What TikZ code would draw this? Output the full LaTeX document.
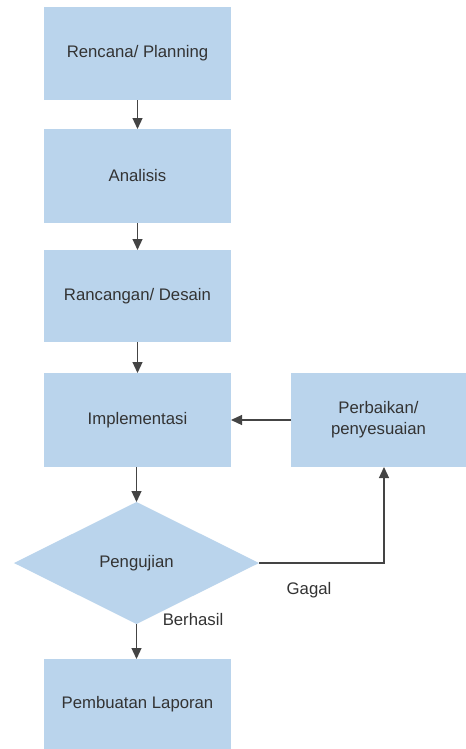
\documentclass[tikz,border=0pt]{standalone}
\usepackage{fontspec}
\setmainfont{Liberation Sans}
\usetikzlibrary{shapes.geometric,arrows.meta}
\definecolor{boxfill}{HTML}{BAD4EC}
\definecolor{txt}{HTML}{333333}
\definecolor{ln}{HTML}{444444}
\begin{document}
\begin{tikzpicture}[x=1bp,y=-1bp,
  every node/.style={font=\fontsize{16.8}{21}\selectfont, text=txt},
  stepbox/.style={fill=boxfill, draw=none, minimum width=187bp, inner sep=0pt, outer sep=0pt, align=center},
  decision/.style={diamond, fill=boxfill, draw=none, minimum width=245bp, minimum height=122bp, inner sep=0pt, outer sep=0pt},
  conn/.style={draw=ln, line width=1.2bp, -{Triangle[length=11bp,width=10bp]}},
  lbl/.style={inner sep=0pt}]
\useasboundingbox (0,0) rectangle (466,749);
\fill[white] (0,0) rectangle (466,749);
\node[stepbox, minimum height=93bp] (r1) at (137.5,53.5) {Rencana/ Planning};
\node[stepbox, minimum height=94bp] (r2) at (137.5,176) {Analisis};
\node[stepbox, minimum height=92bp] (r3) at (137.5,296) {Rancangan/ Desain};
\node[stepbox, minimum height=94bp] (r4) at (137.5,420) {Implementasi};
\node[stepbox, minimum width=175bp, minimum height=94bp] (fix) at (378.5,420) {Perbaikan/\\penyesuaian};
\node[decision] (test) at (136.5,563) {Pengujian};
\node[stepbox, minimum height=90bp] (r5) at (137.5,704) {Pembuatan Laporan};
\coordinate (corner) at (384,563);
\draw[conn] (r1) -- (r2);
\draw[conn] (r2) -- (r3);
\draw[conn] (r3) -- (r4);
\draw[conn] (r4.south -| test.north) -- (test.north);
\draw[conn] (fix) -- (r4);
\draw[conn] (test.east) -- (corner) -- (corner |- fix.south);
\draw[conn] (test.south) -- (test.south |- r5.north);
\node[lbl] (gagal) at (309,590) {Gagal};
\node[lbl] (berhasil) at (193,620) {Berhasil};
\end{tikzpicture}
\end{document}
